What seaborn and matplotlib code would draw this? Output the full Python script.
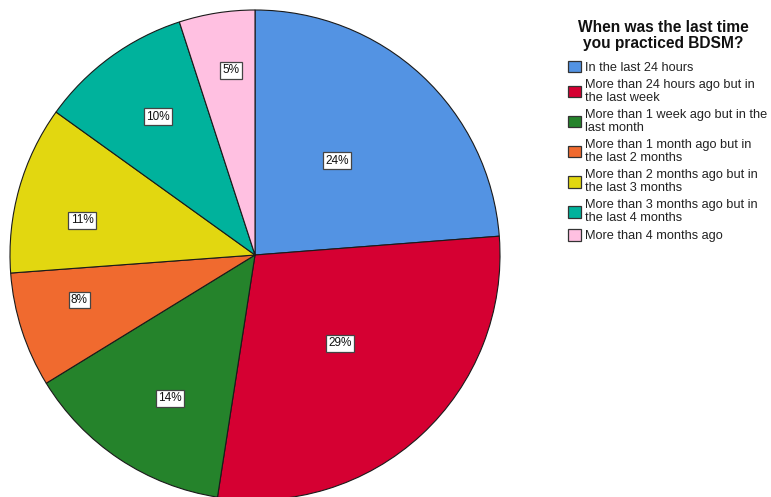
import numpy as np
import matplotlib
matplotlib.use("Agg")
import matplotlib.pyplot as plt
from matplotlib.patches import Patch
import seaborn as sns

sns.set_style("white")
plt.rcParams["font.family"] = ["Liberation Sans", "DejaVu Sans"]

# Survey responses (percent of respondents)
categories = [
    "In the last 24 hours",
    "More than 24 hours ago but in\nthe last week",
    "More than 1 week ago but in the\nlast month",
    "More than 1 month ago but in\nthe last 2 months",
    "More than 2 months ago but in\nthe last 3 months",
    "More than 3 months ago but in\nthe last 4 months",
    "More than 4 months ago",
]
percentages = [23.8, 28.7, 13.8, 7.6, 11.1, 10.1, 5.0]
colors = ["#5393E3", "#D50032", "#25832B", "#F06A2F", "#E2D710", "#00B29C", "#FFC0E1"]
# label placement inside each wedge: radial fraction and fraction of the wedge's sweep
label_radius = [0.51, 0.50, 0.68, 0.74, 0.72, 0.69, 0.76]
label_sweep = [0.48, 0.49, 0.44, 0.63, 0.39, 0.53, 0.59]

W, H = 771, 497
fig = plt.figure(figsize=(W / 100, H / 100), dpi=100)
cx, cy, R = 255, 255, 245
ax = fig.add_axes([(cx - R) / W, (H - cy - R) / H, 2 * R / W, 2 * R / H])

wedges, _ = ax.pie(
    percentages,
    colors=colors,
    startangle=90,
    counterclock=False,
    radius=1.0,
    wedgeprops=dict(edgecolor="#1a1a1a", linewidth=0.8),
)
ax.set_xlim(-1, 1)
ax.set_ylim(-1, 1)
ax.set_aspect("equal")
ax.axis("off")

for w, pct, rf, sf in zip(wedges, percentages, label_radius, label_sweep):
    # wedges run clockwise, so theta2 is the leading edge
    ang = np.deg2rad(w.theta2 - sf * (w.theta2 - w.theta1))
    ax.text(
        rf * np.cos(ang), rf * np.sin(ang), f"{pct:.0f}%",
        ha="center", va="center", fontsize=8.5, color="#111111",
        bbox=dict(boxstyle="square,pad=0.2", facecolor="white",
                  edgecolor="#444444", linewidth=0.9),
    )

fig.text(663 / W, 1 - 35.5 / H, "When was the last time\nyou practiced BDSM?",
         ha="center", va="center", fontsize=11.2, fontweight="bold",
         color="#111111", linespacing=1.03)

handles = [Patch(facecolor=c, edgecolor="#333333", linewidth=0.9) for c in colors]
leg = fig.legend(
    handles, categories,
    loc="upper left", bbox_to_anchor=(568 / W, 1 - 61 / H),
    frameon=False, fontsize=9.2, handlelength=1.0, handleheight=1.0,
    handletextpad=0.3, labelspacing=0.37, borderpad=0, borderaxespad=0,
    labelcolor="#222222",
)
for t in leg.get_texts():
    t.set_linespacing(1.15)

fig.savefig("out.png", dpi=100)
